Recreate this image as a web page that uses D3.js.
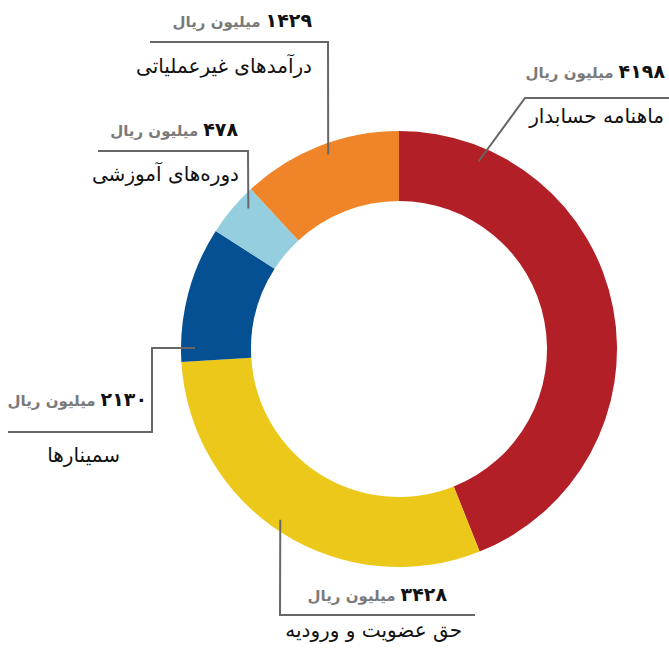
<!DOCTYPE html>
<html><head><meta charset="utf-8">
<script src="https://cdn.jsdelivr.net/npm/d3@7/dist/d3.min.js"></script>
<style>
html,body{margin:0;padding:0;background:#fff;}
svg{display:block;}
text{font-family:"DejaVu Sans",sans-serif;}
</style></head>
<body>
<svg id="chart" width="669" height="649"></svg>
<script>
// Data (clockwise from 12 o'clock)
const categories = ["ماهنامه حسابدار","حق عضویت و ورودیه","سمینارها","دوره‌های آموزشی","درآمدهای غیرعملیاتی"];
const amounts = ["۴۱۹۸","۳۴۲۸","۲۱۳۰","۴۷۸","۱۴۲۹"];          // labels (million rials)
const shares = [43.97, 30.08, 10.06, 4.0, 11.89];                // slice sizes as drawn (%)
const colors = ["#B21F26","#ECC81B","#045092","#94CEDF","url(#orangeGrad)"];
const unitLabel = "میلیون ریال";

const svg = d3.select("#chart");
const cx = 399, cy = 349, rOuter = 218, rInner = 148;

const defs = svg.append("defs");
const g1 = defs.append("linearGradient").attr("id","orangeGrad")
  .attr("gradientUnits","userSpaceOnUse").attr("x1",0).attr("y1",135).attr("x2",0).attr("y2",270);
g1.append("stop").attr("offset","0%").attr("stop-color","#EF8528");
g1.append("stop").attr("offset","100%").attr("stop-color","#B9612B");

const pie = d3.pie().sort(null).value(d => d);
const arc = d3.arc().innerRadius(rInner).outerRadius(rOuter);
const arcs = pie(shares);

const ring = svg.append("g").attr("transform",`translate(${cx},${cy})`);
ring.selectAll("path").data(arcs).join("path")
  .attr("d", arc).attr("fill", (d,i) => colors[i]);

// callout layout: anchor angle (deg), radius, then path points; text positions
const polar = (deg, r) => [cx + r*Math.sin(deg*Math.PI/180), cy - r*Math.cos(deg*Math.PI/180)];
const callouts = [
  {ang:23,  r:204, pts:[[525,98],[669,98]], numX:665, numY:78, catX:664, catY:123},
  {ang:214.8, r:208, pts:[[280,615],[475,615]], numX:447, numY:601, catX:462, catY:637},
  {ang:270.3, r:204, pts:[[152,348],[152,432],[8,432]], numX:147, numY:406, catX:120, catY:462},
  {ang:313, r:206, pts:[[248,151],[98,151]], numX:238, numY:136, catX:239, catY:181},
  {ang:340, r:207, pts:[[328,42],[150,42]], numX:312, numY:27, catX:312, catY:73}
];

const line = d3.line();
callouts.forEach((c,i) => {
  const a = polar(c.ang, c.r);
  const pts = [a].concat(c.pts);
  svg.append("path").attr("d", line(pts)).attr("fill","none")
    .attr("stroke","#676767").attr("stroke-width",2);
  const num = svg.append("text").attr("x",c.numX).attr("y",c.numY)
    .attr("text-anchor","end").attr("font-size",19).attr("font-weight","bold")
    .attr("fill","#111").text(amounts[i]);
  const w = num.node().getComputedTextLength();
  svg.append("text").attr("x",c.numX - w - 5).attr("y",c.numY)
    .attr("text-anchor","end").attr("font-size",15).attr("font-weight","bold")
    .attr("fill","#7a7a7a").text(unitLabel);
  svg.append("text").attr("x",c.catX).attr("y",c.catY)
    .attr("text-anchor","end").attr("font-size",20)
    .attr("fill","#111").text(categories[i]);
});
</script>
</body></html>
